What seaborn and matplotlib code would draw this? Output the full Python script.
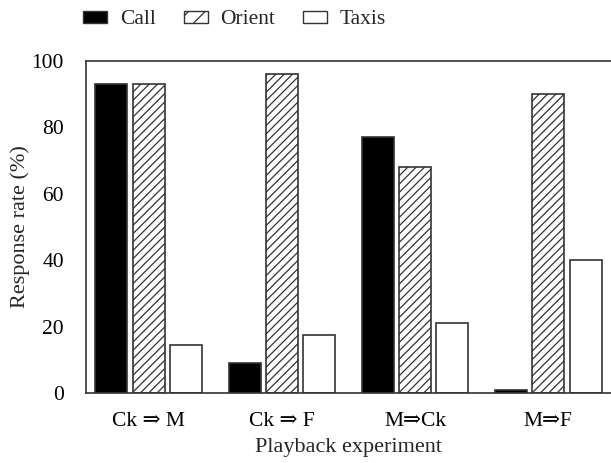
import matplotlib
matplotlib.use("Agg")
import matplotlib.pyplot as plt
from matplotlib.patches import Patch
import seaborn as sns
import pandas as pd

experiments = ["Ck \u21d2 M", "Ck \u21d2 F", "M\u21d2Ck", "M\u21d2F"]
responses = ["Call", "Orient", "Taxis"]
call = [93, 9, 77, 1]
orient = [93, 96, 68, 90]
taxis = [14.4, 17.6, 21, 40]
yticks = [0, 20, 40, 60, 80, 100]

rows = []
for i, e in enumerate(experiments):
    for r, vals in zip(responses, [call, orient, taxis]):
        rows.append({"Experiment": e, "Response": r, "Rate": vals[i]})
df = pd.DataFrame(rows)

sns.set_style("white")
plt.rcParams["font.family"] = ["Liberation Serif", "DejaVu Serif"]
plt.rcParams["hatch.linewidth"] = 0.9

fig = plt.figure(figsize=(6.11, 4.63), dpi=100)
ax = fig.add_axes([86 / 611, 70 / 463, 525 / 611, 332 / 463])

sns.barplot(data=df, x="Experiment", y="Rate", hue="Response",
            order=experiments, hue_order=responses,
            palette=["black", "white", "white"], width=0.84, gap=0.14,
            edgecolor="#444444", linewidth=1.2, ax=ax, legend=False,
            errorbar=None)

styles = {"Call": ("black", ""), "Orient": ("white", "////"), "Taxis": ("white", "")}
for cont, r in zip(ax.containers, responses):
    fc, h = styles[r]
    for bar in cont:
        bar.set_facecolor(fc)
        bar.set_hatch(h)
        bar.set_edgecolor("#333333")

ax.set_xlim(-0.47, 3.47)
ax.set_ylim(0, 100)
ax.set_yticks(yticks)
ax.tick_params(axis="both", length=0, labelsize=15.5, colors="black")
ax.tick_params(axis="x", pad=14)
ax.tick_params(axis="y", pad=16)
ax.set_xlabel("Playback experiment", fontsize=16, labelpad=5)
ax.set_ylabel("Response rate (%)", fontsize=16, labelpad=1)
for s in ["left", "top", "bottom"]:
    ax.spines[s].set_visible(True)
    ax.spines[s].set_color("#333333")
    ax.spines[s].set_linewidth(1.2)
ax.spines["right"].set_visible(False)

handles = [Patch(facecolor="black", edgecolor="#333333", label="Call"),
           Patch(facecolor="white", edgecolor="#333333", hatch="//", label="Orient"),
           Patch(facecolor="white", edgecolor="#333333", label="Taxis")]
fig.legend(handles=handles, loc="center left", bbox_to_anchor=(64 / 611, 1 - 20 / 463),
           ncol=3, frameon=False, fontsize=15.5, handlelength=1.1, handleheight=0.45,
           handletextpad=0.6, columnspacing=1.3)

fig.savefig("out.png", dpi=100)
